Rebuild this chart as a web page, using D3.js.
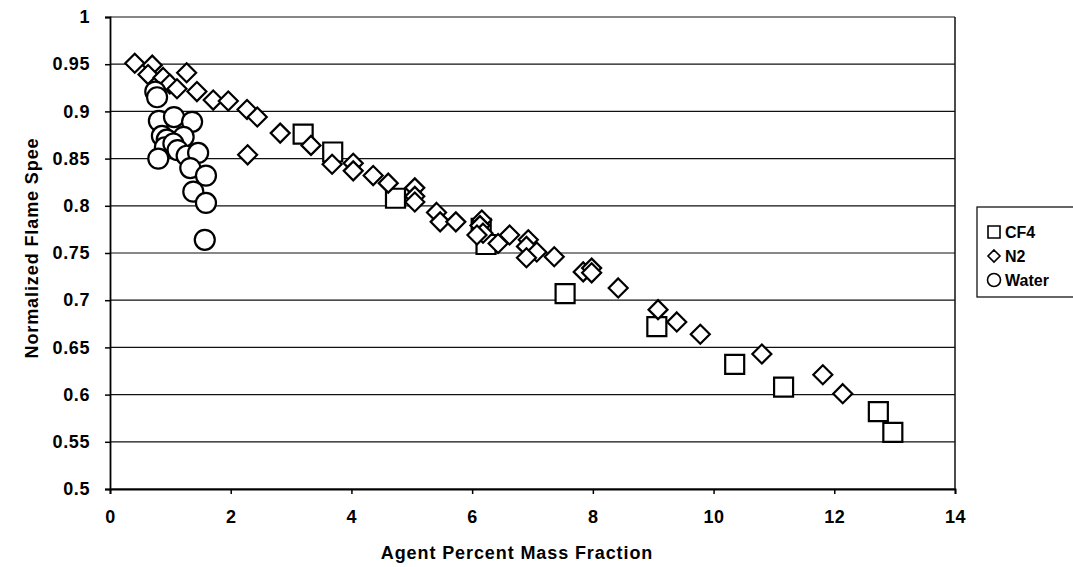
<!DOCTYPE html>
<html>
<head>
<meta charset="utf-8">
<script src="https://cdn.jsdelivr.net/npm/d3@7"></script>
<style>
  body { margin: 0; background: #fff; }
  svg text { font-family: "Liberation Sans", Arial, sans-serif; font-weight: bold; fill: #000; }
</style>
</head>
<body>
<svg id="plot" width="1073" height="567"></svg>
<script>
const width = 1073;
const height = 567;

// CF4 series
const cf4X = [3.2, 3.69, 4.73, 6.15, 6.23, 7.54, 9.06, 10.35, 11.16, 12.73, 12.97];
const cf4Y = [0.876, 0.857, 0.808, 0.776, 0.759, 0.707, 0.672, 0.632, 0.608, 0.582, 0.560];

// N2 series
const n2X = [0.41, 0.70, 0.63, 0.88, 1.27, 0.99, 1.11, 1.44, 1.71, 1.96, 2.27, 2.44, 2.82, 2.28,
  3.33, 3.68, 4.03, 4.03, 4.36, 4.61, 5.05, 5.05, 5.05, 5.41, 5.47, 5.73, 6.16, 6.13, 6.18, 6.08,
  6.43, 6.62, 6.93, 6.90, 7.07, 6.90, 7.36, 7.84, 7.98, 7.98, 8.42, 9.08, 9.39, 9.78, 10.80, 11.81, 12.14];
const n2Y = [0.951, 0.949, 0.939, 0.936, 0.941, 0.929, 0.924, 0.921, 0.912, 0.911, 0.902, 0.894, 0.877, 0.854,
  0.864, 0.844, 0.845, 0.837, 0.832, 0.824, 0.819, 0.810, 0.804, 0.793, 0.783, 0.783, 0.785, 0.779, 0.771, 0.769,
  0.760, 0.769, 0.764, 0.757, 0.751, 0.745, 0.746, 0.730, 0.734, 0.729, 0.713, 0.690, 0.677, 0.664, 0.643, 0.621, 0.601];

// Water series
const waterX = [0.75, 0.78, 0.81, 1.06, 1.36, 0.86, 0.94, 1.22, 0.91, 1.05, 0.80, 1.12, 1.27, 1.46, 1.33, 1.59, 1.38, 1.59, 1.57];
const waterY = [0.921, 0.915, 0.890, 0.894, 0.889, 0.874, 0.870, 0.873, 0.862, 0.866, 0.850, 0.859, 0.853, 0.856, 0.840, 0.832, 0.815, 0.803, 0.764];

const xTicks = [0, 2, 4, 6, 8, 10, 12, 14];
const yTicks = [0.5, 0.55, 0.6, 0.65, 0.7, 0.75, 0.8, 0.85, 0.9, 0.95, 1];
const seriesNames = ["CF4", "N2", "Water"];

const svg = d3.select("#plot");

const x = d3.scaleLinear().domain([0, 14]).range([110, 955]);
const y = d3.scaleLinear().domain([0.5, 1]).range([489, 17]);

// gridlines
svg.append("g")
  .selectAll("line")
  .data(yTicks)
  .join("line")
  .attr("x1", x(0)).attr("x2", x(14))
  .attr("y1", d => y(d)).attr("y2", d => y(d))
  .attr("stroke", "#111").attr("stroke-width", 1.2);

// right border
svg.append("line")
  .attr("x1", x(14)).attr("x2", x(14))
  .attr("y1", y(1)).attr("y2", y(0.5))
  .attr("stroke", "#111").attr("stroke-width", 1.5);

// axes
const yAxis = svg.append("g")
  .attr("transform", `translate(${x(0)},0)`)
  .call(d3.axisLeft(y).tickValues(yTicks).tickSize(5).tickPadding(15).tickFormat(d => String(+d.toFixed(2))));

const xAxis = svg.append("g")
  .attr("transform", `translate(0,${y(0.5)})`)
  .call(d3.axisBottom(x).tickValues(xTicks).tickSize(5).tickPadding(16).tickFormat(d3.format("d")));

[yAxis, xAxis].forEach(g => {
  g.select(".domain").attr("stroke", "#000").attr("stroke-width", 1.8);
  g.selectAll(".tick line").attr("stroke", "#000").attr("stroke-width", 1.5);
  g.selectAll("text")
    .style("font-size", "18px")
    .style("letter-spacing", "0.6px")
    .style("font-family", "Liberation Sans, Arial, sans-serif")
    .style("font-weight", "bold")
    .attr("fill", "#000");
});

// axis titles
svg.append("text")
  .attr("x", 517).attr("y", 559)
  .attr("text-anchor", "middle")
  .style("font-size", "18px")
  .style("letter-spacing", "0.9px")
  .text("Agent Percent Mass Fraction");

svg.append("text")
  .attr("transform", "translate(38,248) rotate(-90)")
  .attr("text-anchor", "middle")
  .style("font-size", "18px")
  .style("letter-spacing", "0.9px")
  .text("Normalized Flame Spee");

// marker shapes
function squarePath(s) { const h = s / 2; return `M${-h},${-h}H${h}V${h}H${-h}Z`; }
function diamondPath(s) { const h = s / 2; return `M0,${-h}L${h},0L0,${h}L${-h},0Z`; }

const cf4 = cf4X.map((v, i) => ({ x: v, y: cf4Y[i] }));
const n2 = n2X.map((v, i) => ({ x: v, y: n2Y[i] }));
const water = waterX.map((v, i) => ({ x: v, y: waterY[i] }));

svg.append("g").selectAll("path")
  .data(cf4)
  .join("path")
  .attr("transform", d => `translate(${x(d.x)},${y(d.y)})`)
  .attr("d", squarePath(19))
  .attr("fill", "#fff").attr("stroke", "#000").attr("stroke-width", 2.2);

svg.append("g").selectAll("path")
  .data(n2)
  .join("path")
  .attr("transform", d => `translate(${x(d.x)},${y(d.y)})`)
  .attr("d", diamondPath(19))
  .attr("fill", "#fff").attr("stroke", "#000").attr("stroke-width", 2.2);

svg.append("g").selectAll("circle")
  .data(water)
  .join("circle")
  .attr("cx", d => x(d.x)).attr("cy", d => y(d.y))
  .attr("r", 10)
  .attr("fill", "#fff").attr("stroke", "#000").attr("stroke-width", 2.2);

// legend
const legend = svg.append("g").attr("transform", "translate(977,207)");
legend.append("rect")
  .attr("width", 100).attr("height", 90)
  .attr("fill", "#fff").attr("stroke", "#000").attr("stroke-width", 1.2);

const leg = legend.selectAll("g.item")
  .data(seriesNames)
  .join("g")
  .attr("class", "item")
  .attr("transform", (d, i) => `translate(17,${25 + i * 24})`);

leg.each(function(d, i) {
  const g = d3.select(this);
  if (i === 0) g.append("path").attr("d", squarePath(12));
  else if (i === 1) g.append("path").attr("d", diamondPath(12));
  else g.append("circle").attr("r", 6.5);
  g.select(":first-child").attr("fill", "#fff").attr("stroke", "#000").attr("stroke-width", 1.6);
  g.append("text").attr("x", 11).attr("y", 6).style("font-size", "16px").text(d);
});
</script>
</body>
</html>
